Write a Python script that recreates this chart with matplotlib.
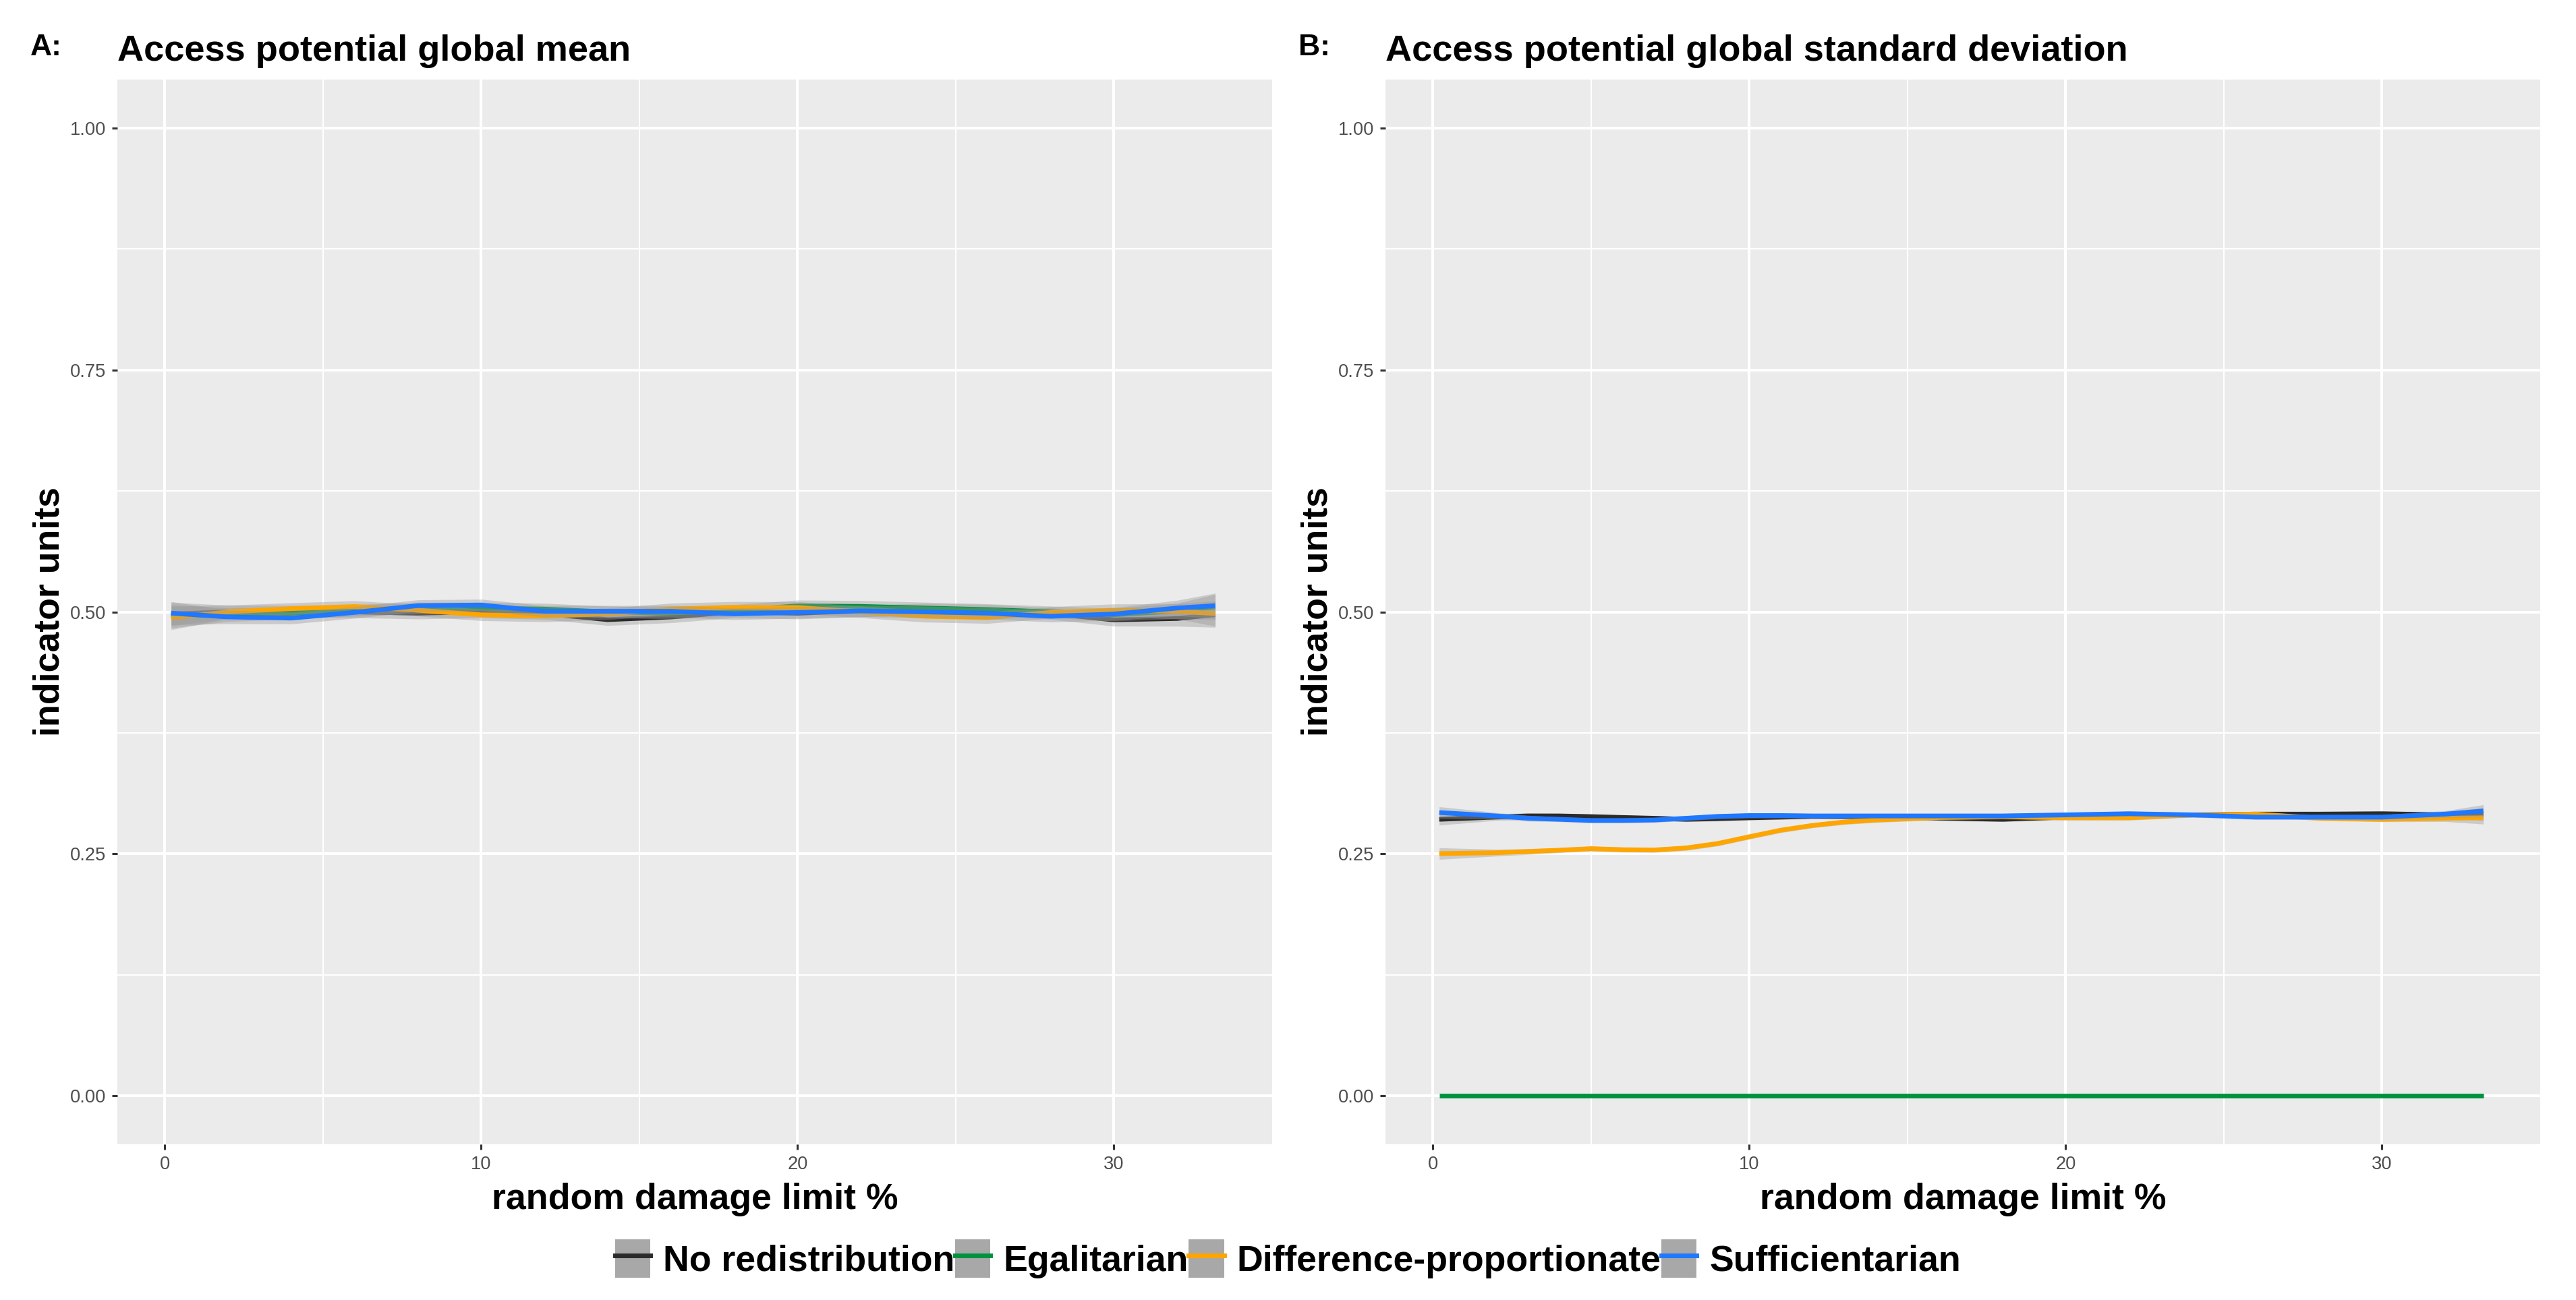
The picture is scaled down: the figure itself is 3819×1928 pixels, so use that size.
import matplotlib
matplotlib.use('Agg')
import matplotlib.pyplot as plt
from matplotlib.patches import Patch
from matplotlib.lines import Line2D
from matplotlib.legend_handler import HandlerTuple

plt.rcParams['font.family'] = ['Liberation Sans', 'DejaVu Sans']

SERIES = ['No redistribution', 'Egalitarian', 'Difference-proportionate', 'Sufficientarian']
COLORS = ['#2b2b2b', '#00923f', '#ffa500', '#1f78ff']

# panel A: global mean
X_A = [0.2, 2, 4, 6, 8, 10, 12, 14, 16, 18, 20, 22, 24, 26, 28, 30, 32, 33.2]
MEAN_NONE = [0.4978, 0.5000, 0.5006, 0.5000, 0.4987, 0.5000, 0.4983, 0.4920, 0.4948,
             0.5000, 0.4987, 0.5010, 0.5029, 0.5017, 0.4983, 0.4918, 0.4932, 0.4971]
MEAN_EGAL = [0.4955, 0.4971, 0.4987, 0.5017, 0.5040, 0.5040, 0.5029, 0.5000, 0.4987,
             0.5016, 0.5062, 0.5057, 0.5040, 0.5024, 0.5000, 0.4971, 0.5010, 0.5052]
MEAN_DIFF = [0.4936, 0.5000, 0.5034, 0.5055, 0.5017, 0.4970, 0.4958, 0.4980, 0.5030,
             0.5047, 0.5045, 0.5000, 0.4955, 0.4941, 0.4994, 0.5017, 0.5006, 0.4983]
MEAN_SUFF = [0.4987, 0.4948, 0.4936, 0.4995, 0.5065, 0.5071, 0.5006, 0.5006, 0.5006,
             0.4980, 0.4994, 0.5010, 0.5000, 0.4987, 0.4955, 0.4978, 0.5040, 0.5064]
SE_A = [0.012, 0.007, 0.006, 0.006, 0.006, 0.006, 0.006, 0.006, 0.006,
        0.006, 0.006, 0.006, 0.006, 0.006, 0.006, 0.0065, 0.008, 0.013]

# panel B: global standard deviation
X_B = [0.2, 2, 3, 4, 5, 6, 7, 8, 9, 10, 11, 12, 13, 14,
       16, 18, 20, 22, 24, 26, 28, 30, 32, 33.2]
SD_NONE = [0.2857, 0.2880, 0.2892, 0.2892, 0.2885, 0.2876, 0.2868, 0.2857, 0.2864,
           0.2873, 0.2880, 0.2887, 0.2885, 0.2885,
           0.2869, 0.2857, 0.2880, 0.2892, 0.2903, 0.2911, 0.2911, 0.2915, 0.2903, 0.2911]
SD_EGAL = [0.0, 0.0, 0.0, 0.0, 0.0, 0.0, 0.0, 0.0, 0.0, 0.0, 0.0, 0.0, 0.0, 0.0,
           0.0, 0.0, 0.0, 0.0, 0.0, 0.0, 0.0, 0.0, 0.0, 0.0]
SD_DIFF = [0.2503, 0.2512, 0.2524, 0.2538, 0.2554, 0.2543, 0.2540, 0.2561, 0.2607,
           0.2677, 0.2745, 0.2794, 0.2829, 0.2850,
           0.2876, 0.2885, 0.2873, 0.2873, 0.2903, 0.2911, 0.2869, 0.2857, 0.2869, 0.2873]
SD_SUFF = [0.2927, 0.2892, 0.2868, 0.2857, 0.2845, 0.2845, 0.2850, 0.2868, 0.2887,
           0.2896, 0.2896, 0.2892, 0.2892, 0.2892,
           0.2892, 0.2892, 0.2903, 0.2915, 0.2903, 0.2880, 0.2880, 0.2880, 0.2911, 0.2943]
SE_B = [0.006, 0.0035, 0.003, 0.0025, 0.0025, 0.0025, 0.0025, 0.0025, 0.0025,
        0.0025, 0.0025, 0.0025, 0.0025, 0.0025,
        0.0025, 0.0025, 0.0025, 0.0025, 0.0025, 0.0025, 0.0025, 0.0025, 0.0035, 0.0065]
SE_ZERO = [0.0] * len(X_B)

PANELS = [
    ('A:', 'Access potential global mean', X_A,
     [MEAN_NONE, MEAN_EGAL, MEAN_DIFF, MEAN_SUFF], [SE_A, SE_A, SE_A, SE_A]),
    ('B:', 'Access potential global standard deviation', X_B,
     [SD_NONE, SD_EGAL, SD_DIFF, SD_SUFF], [SE_B, SE_ZERO, SE_B, SE_B]),
]

W, H = 3819, 1928
fig = plt.figure(figsize=(W / 200, H / 200), dpi=200)
lefts = [174, 2054]
pw, top, bot = 1712, 118, 1697

for (tag, title, xs, ys, ses), lx in zip(PANELS, lefts):
    ax = fig.add_axes([lx / W, 1 - bot / H, pw / W, (bot - top) / H])
    ax.set_facecolor('#ebebeb')
    for s in ax.spines.values():
        s.set_visible(False)
    ax.set_xlim(-1.5, 35.0)
    ax.set_ylim(-0.05, 1.05)
    ax.set_xticks([0, 10, 20, 30])
    ax.set_xticks([5, 15, 25], minor=True)
    ax.set_yticks([0, 0.25, 0.5, 0.75, 1.0])
    ax.set_yticklabels(['0.00', '0.25', '0.50', '0.75', '1.00'])
    ax.set_yticks([0.125, 0.375, 0.625, 0.875], minor=True)
    ax.grid(which='major', color='white', lw=1.45)
    ax.grid(which='minor', color='white', lw=0.72)
    ax.set_axisbelow(True)
    ax.tick_params(which='major', length=2.9, width=1.1, color='#333333',
                   labelsize=9.8, labelcolor='#4d4d4d', pad=3.2)
    ax.tick_params(which='minor', length=0)

    # ribbon then line per group, like geom_smooth, so later ribbons veil earlier lines
    z = 2
    for y, se, col in zip(ys, ses, COLORS):
        lo = [a - b for a, b in zip(y, se)]
        hi = [a + b for a, b in zip(y, se)]
        ax.fill_between(xs, lo, hi, color='#999999', alpha=0.4, lw=0, zorder=z)
        ax.plot(xs, y, color=col, lw=2.5, zorder=z + 1, solid_capstyle='butt')
        z += 2

    ax.set_title(title, loc='left', fontsize=19.5, fontweight='bold', pad=10)
    ax.set_xlabel('random damage limit %', fontsize=19.3, fontweight='bold', labelpad=5)
    ax.set_ylabel('indicator units', fontsize=19.3, fontweight='bold', labelpad=2)
    fig.text((lx - 129) / W, 1 - 82 / H, tag, fontsize=16, fontweight='bold',
             va='baseline', ha='left')

handles = [(Patch(facecolor='#a8a8a8', edgecolor='none'),
            Line2D([], [], color=c, lw=2.5)) for c in COLORS]
fig.legend(handles, SERIES, handler_map={tuple: HandlerTuple(ndivide=1, pad=0)},
           loc='center', bbox_to_anchor=(0.5, 1 - 1867 / H), ncol=4, frameon=False,
           prop={'size': 19.3, 'weight': 'bold'}, handlelength=0.98, handleheight=1.25,
           handletextpad=0.36, columnspacing=0.0, borderpad=0)

fig.savefig('out.png', dpi=200, facecolor='white')
